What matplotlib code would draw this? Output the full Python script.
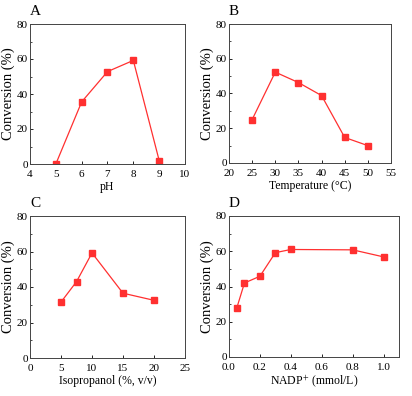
import matplotlib
matplotlib.use("Agg")
import matplotlib.pyplot as plt
from matplotlib.ticker import AutoMinorLocator

plt.rcParams["font.family"] = ["Liberation Serif", "DejaVu Serif"]
plt.rcParams["mathtext.fontset"] = "stix"

# Panel A: pH
ph = [5, 6, 7, 8, 9]
ph_conv = [0, 35.5, 52.8, 59.2, 2.0]

# Panel B: temperature
temp = [25, 30, 35, 40, 45, 50]
temp_conv = [25.0, 52.3, 46.3, 38.8, 14.7, 10.0]

# Panel C: isopropanol
iso = [5, 7.5, 10, 15, 20]
iso_conv = [31.5, 43.0, 59.2, 36.5, 32.5]

# Panel D: NADP+
nadp = [0.05, 0.1, 0.2, 0.3, 0.4, 0.8, 1.0]
nadp_conv = [27.7, 42.0, 45.8, 59.2, 61.0, 60.8, 56.8]

panels = [
    ("A", ph, ph_conv, "pH", (4, 10), [4, 5, 6, 7, 8, 9, 10], None),
    ("B", temp, temp_conv, "Temperature (\u00b0C)", (20, 55), [20, 25, 30, 35, 40, 45, 50, 55], None),
    ("C", iso, iso_conv, "Isopropanol (%, v/v)", (0, 25), [0, 5, 10, 15, 20, 25], None),
    ("D", nadp, nadp_conv, "NADP$^{+}$ (mmol/L)", (0, 1.1), [0.0, 0.2, 0.4, 0.6, 0.8, 1.0], "%.1f"),
]

# axes rectangles in pixels: left, right, top, bottom
rects = [
    (30, 185, 24, 164),
    (229, 391, 24, 163),
    (30, 185, 216, 358),
    (229, 399, 216, 357),
]

W, H = 412, 396
fig = plt.figure(figsize=(W / 100, H / 100), dpi=100)
red = "#ff3030"

for (label, x, y, xlabel, xlim, xticks, fmt), (l, r, t, b) in zip(panels, rects):
    ax = fig.add_axes([l / W, 1 - b / H, (r - l) / W, (b - t) / H])
    ax.plot(x, y, "-", color=red, linewidth=0.9, marker="s", markersize=3.8,
            markerfacecolor=red, markeredgecolor=red)
    ax.set_xlim(*xlim)
    ax.set_ylim(0, 80)
    ax.set_xticks(xticks)
    if fmt:
        ax.set_xticklabels([fmt % v for v in xticks])
    ax.set_yticks([0, 20, 40, 60, 80])
    ax.yaxis.set_minor_locator(AutoMinorLocator(2))
    ax.tick_params(which="both", direction="in", labelsize=8)
    ax.tick_params(axis="y", pad=1.5)
    ax.tick_params(axis="x", pad=4.5)
    ax.tick_params(which="major", length=2.5, width=0.6)
    ax.tick_params(which="minor", length=1.5, width=0.5)
    for s in ax.spines.values():
        s.set_linewidth(0.7)
        s.set_color("#444444")
    ax.set_xlabel(xlabel, fontsize=8.5, labelpad=1)
    ax.set_ylabel("Conversion (%)", fontsize=10.5, labelpad=1)
    ax.text(0.0, 1.045, label, transform=ax.transAxes, fontsize=11,
            ha="left", va="bottom")

fig.savefig("out.png", dpi=100)
